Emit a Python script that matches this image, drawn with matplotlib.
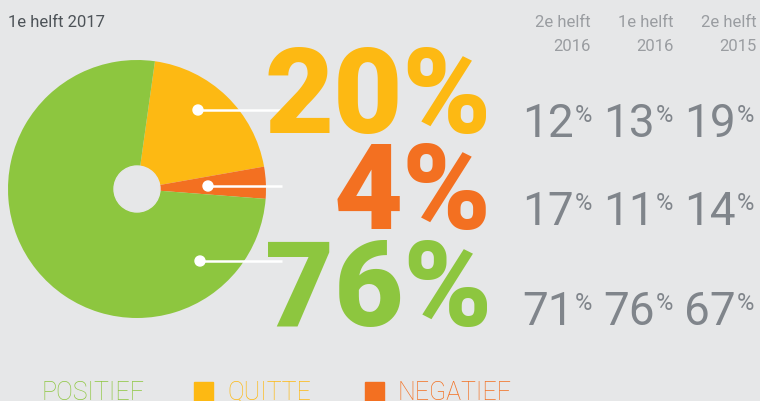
import matplotlib
matplotlib.use("Agg")
import matplotlib.pyplot as plt
from matplotlib.patches import Circle, Rectangle

W, H = 760, 401
BG = "#e6e7e8"

categories = ["QUITTE", "NEGATIEF", "POSITIEF"]
current = [20, 4, 76]
colors = ["#fdb913", "#f37021", "#8dc63f"]
period_title = "1e helft 2017"
history_labels = ["2e helft\n2016", "1e helft\n2016", "2e helft\n2015"]
history = {
    "QUITTE": [12, 13, 19],
    "NEGATIEF": [17, 11, 14],
    "POSITIEF": [71, 76, 67],
}
legend_order = ["POSITIEF", "QUITTE", "NEGATIEF"]

fig = plt.figure(figsize=(W / 100, H / 100), dpi=100, facecolor=BG)
ax = fig.add_axes([0, 0, 1, 1])

def Y(y):
    return H - y

# pie
cx, cy, r = 137, Y(189), 129
ax.pie(current, colors=colors, startangle=82, counterclock=False,
       center=(cx, cy), radius=r, frame=True,
       wedgeprops=dict(linewidth=0))
ax.set_xlim(0, W)
ax.set_ylim(0, H)
ax.set_aspect("equal")
ax.axis("off")
ax.add_patch(Circle((cx, cy), 23, color=BG, zorder=5))

# leader lines with dots
dots = [(198, 110), (208, 186), (200, 261)]
for (dx, dy) in dots:
    ax.plot([dx, 282], [Y(dy), Y(dy)], color="white", lw=1.8, zorder=6,
            solid_capstyle="butt")
    ax.add_patch(Circle((dx, Y(dy)), 5, color="white", zorder=7))

# big numbers
baselines = [133, 229, 326]
for val, col, b in zip(current, colors, baselines):
    ax.text(492, Y(b), f"{val}%", color=col, fontsize=86, family="Roboto",
            fontweight="black", ha="right", va="baseline", zorder=8)

# header
ax.text(8, Y(27), period_title, color="#4d5358", fontsize=12,
        family="Roboto", ha="left", va="baseline")

col_right = [574, 655, 736]
hdr_right = [591, 674, 757]
for lbl, x in zip(history_labels, hdr_right):
    l1, l2 = lbl.split("\n")
    ax.text(x, Y(27), l1, color="#9a9da1", fontsize=12, family="Roboto",
            ha="right", va="baseline")
    ax.text(x, Y(51), l2, color="#9a9da1", fontsize=12, family="Roboto",
            ha="right", va="baseline")

row_base = [137, 225, 325]
grey = "#80858b"
for cat, b in zip(categories, row_base):
    for v, x in zip(history[cat], col_right):
        ax.text(x, Y(b), f"{v}", color=grey, fontsize=33, family="Roboto",
                fontweight="normal", ha="right", va="baseline")
        ax.text(x + 1, Y(b - 15), "%", color=grey, fontsize=17,
                family="Roboto", fontweight="normal", ha="left",
                va="baseline")

# legend
leg_x = {"POSITIEF": 41, "QUITTE": 227, "NEGATIEF": 398}
sq_x = {"QUITTE": 194, "NEGATIEF": 365}
cmap = dict(zip(categories, colors))
for cat in legend_order:
    ax.text(leg_x[cat], Y(400), cat, color=cmap[cat], fontsize=18,
            family="Roboto", fontweight="light", ha="left", va="baseline")
    if cat in sq_x:
        ax.add_patch(Rectangle((sq_x[cat], Y(401)), 19, 19, color=cmap[cat]))

fig.savefig("out.png", dpi=100, facecolor=BG)
